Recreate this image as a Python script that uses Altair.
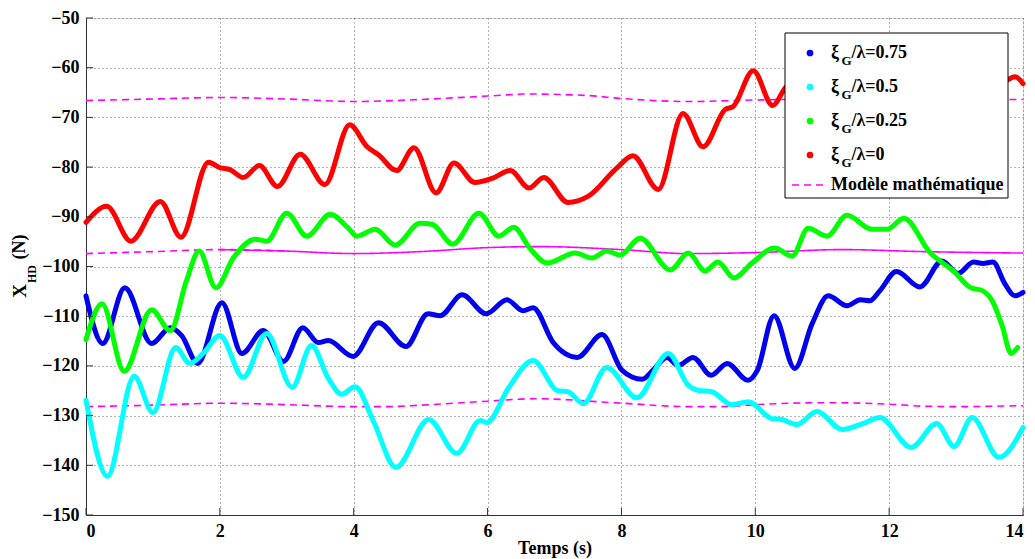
import altair as alt
import pandas as pd

# ---------------- data ----------------
blue_x = [0, 0.25, 0.58, 0.98, 1.26, 1.43, 1.67, 2.03, 2.33, 2.65, 2.95, 3.24, 3.47, 3.62, 3.99,
          4.37, 4.78, 5.11, 5.29, 5.62, 5.98, 6.29, 6.53, 6.68, 6.98, 7.34, 7.71, 8.01, 8.31,
          8.47, 8.68, 8.85, 9.07, 9.34, 9.58, 9.89, 10.03, 10.28, 10.59, 10.85, 11.09, 11.37,
          11.57, 11.71, 11.86, 12.11, 12.46, 12.79, 13.03, 13.26, 13.40, 13.55, 13.73, 13.88, 14.0]
blue_y = [-105.9, -115.5, -104.3, -115.5, -112.3, -113.9, -119.5, -107.3, -117.5, -112.9, -119.1,
          -112.3, -115.3, -114.9, -118.1, -111.3, -116.1, -109.5, -109.9, -105.7, -109.5, -106.7,
          -108.9, -108.3, -115.3, -118.3, -113.7, -120.9, -122.7, -120.9, -118.3, -119.9, -118.3,
          -121.9, -119.5, -122.9, -120.9, -109.9, -120.5, -111.5, -105.9, -107.9, -106.7, -106.9,
          -104.9, -101.0, -104.1, -98.9, -101.4, -99.1, -99.4, -99.1, -103.5, -105.9, -105.2]

cyan_x = [0, 0.32, 0.72, 1.0, 1.34, 1.55, 1.75, 2.0, 2.35, 2.70, 3.08, 3.37, 3.62, 3.82, 4.02,
          4.29, 4.63, 5.12, 5.54, 5.89, 5.99, 6.31, 6.68, 7.05, 7.20, 7.43, 7.78, 8.23, 8.70,
          9.0, 9.14, 9.35, 9.65, 9.89, 10.25, 10.40, 10.62, 10.92, 11.30, 11.61, 11.86, 12.33,
          12.71, 12.97, 13.24, 13.64, 14.0]
cyan_y = [-126.9, -142.2, -122.1, -129.4, -116.3, -119.5, -117.5, -113.9, -122.3, -113.5, -124.3,
          -115.9, -122.5, -125.7, -124.2, -131.0, -140.4, -130.8, -137.6, -131.0, -131.4, -124.5,
          -118.9, -125.0, -125.2, -127.6, -120.3, -126.4, -117.5, -123.9, -124.9, -125.2, -127.8,
          -127.2, -130.6, -130.8, -131.8, -129.2, -132.8, -131.6, -130.4, -136.4, -131.6, -136.2,
          -130.4, -138.4, -132.4]

green_x = [0, 0.24, 0.57, 0.98, 1.26, 1.50, 1.69, 1.94, 2.2, 2.53, 2.70, 3.0, 3.30, 3.65, 3.92,
           4.05, 4.32, 4.62, 4.99, 5.17, 5.48, 5.87, 6.17, 6.39, 6.63, 6.89, 7.31, 7.56, 7.78,
           7.98, 8.28, 8.73, 9.0, 9.25, 9.44, 9.68, 9.95, 10.29, 10.55, 10.79, 11.07, 11.37,
           11.74, 11.97, 12.22, 12.61, 12.96, 13.21, 13.40, 13.54, 13.69, 13.82, 13.92]
green_y = [-114.7, -107.5, -121.1, -108.7, -112.9, -102.9, -96.9, -104.3, -98.3, -94.5, -94.9,
           -89.3, -93.9, -89.5, -92.3, -93.9, -92.5, -95.7, -91.3, -91.5, -95.5, -89.3, -93.9,
           -92.1, -96.3, -99.3, -97.3, -98.3, -96.9, -97.7, -94.3, -100.7, -97.3, -100.9, -99.1,
           -102.3, -99.3, -96.3, -97.9, -92.3, -93.9, -89.7, -92.5, -92.5, -90.3, -97.2, -100.9,
           -104.2, -104.9, -106.9, -112.0, -117.5, -116.3]

red_x = [0, 0.31, 0.67, 1.11, 1.42, 1.83, 2.0, 2.15, 2.35, 2.59, 2.86, 3.2, 3.57, 3.94, 4.2,
         4.37, 4.64, 4.90, 5.23, 5.50, 5.81, 6.08, 6.34, 6.62, 6.84, 7.20, 7.50, 7.93, 8.17,
         8.55, 8.92, 9.22, 9.55, 9.67, 9.97, 10.26, 10.45, 10.8, 11.3, 11.8, 12.3, 12.8, 13.3,
         13.7, 13.88, 14.0]
red_y = [-91.1, -87.9, -94.9, -86.9, -94.1, -79.0, -80.1, -80.5, -82.1, -79.7, -83.9, -77.4,
         -83.5, -71.5, -75.9, -77.5, -80.7, -76.1, -85.2, -79.2, -83.1, -82.2, -80.7, -84.2,
         -82.1, -87.1, -85.9, -80.2, -77.7, -84.5, -69.2, -75.9, -68.4, -67.8, -60.6, -67.6,
         -64.0, -61.0, -65.0, -62.0, -66.0, -63.0, -65.0, -63.0, -61.8, -63.2]

# mathematical model (three curves)
mod_top_x = [0, 1, 2, 3, 4, 5, 6, 6.6, 7.5, 8, 9, 10, 11, 12, 13, 14]
mod_top_y = [-66.6, -66.3, -66.0, -66.3, -66.8, -66.4, -65.7, -65.3, -65.6, -66.2, -66.8, -66.5,
             -66.3, -66.2, -66.4, -66.4]
mod_mid_x = [0, 1, 2, 3, 4, 5, 6, 6.8, 8, 9, 10, 11.3, 12.5, 14]
mod_mid_y = [-97.4, -97.0, -96.6, -96.9, -97.4, -97.0, -96.2, -96.0, -96.6, -97.4, -97.2,
             -96.6, -97.0, -97.3]
mod_bot_x = [0, 1, 2, 3, 4, 4.5, 5, 6, 6.7, 8, 9, 9.5, 10, 11, 12, 12.5, 13, 14]
mod_bot_y = [-128.2, -127.9, -127.5, -127.8, -128.2, -128.2, -127.9, -127.1, -126.6, -127.5,
             -128.2, -128.2, -127.8, -127.4, -127.7, -128.1, -128.2, -128.0]

series_values = ["0.75", "0.5", "0.25", "0"]
series_colors = ["#0000ee", "#00ffff", "#00ff00", "#ff0000"]
model_label = "Modèle mathématique"
model_color = "#ff00ff"

x_ticks = [0, 2, 4, 6, 8, 10, 12, 14]
y_ticks = [-150, -140, -130, -120, -110, -100, -90, -80, -70, -60, -50]

# ---------------- chart ----------------
W, H = 937, 497
TOP = 10
FONT = "Liberation Serif"

xs = alt.Scale(domain=[0, 14], nice=False, zero=False)
ys = alt.Scale(domain=[-150, -50], nice=False, zero=False)

def frame(xv, yv):
    return pd.DataFrame({"t": xv, "v": yv})

axis_x = alt.Axis(values=x_ticks, format="d", grid=True, gridDash=[1, 3], gridColor="#666",
                  gridOpacity=1, ticks=False, labelPadding=7, domainColor="#333",
                  labelFont=FONT, labelFontWeight="bold", labelFontSize=18, labelColor="black",
                  title="Temps (s)", titleFont=FONT, titleFontWeight="bold", titleFontSize=18,
                  titleColor="black", titlePadding=-1)
axis_y = alt.Axis(values=y_ticks, format="d", grid=True, gridDash=[1, 3], gridColor="#666",
                  gridOpacity=1, ticks=False, labelPadding=7, domainColor="#333",
                  labelFont=FONT, labelFontWeight="bold", labelFontSize=18, labelColor="black",
                  title=None)

layers = []

def model_layer(xv, yv, dash):
    m = alt.Chart(frame(xv, yv)).mark_line(color=model_color, strokeWidth=1.6,
                                             strokeDash=dash, interpolate="monotone")
    return m.encode(x=alt.X("t:Q", scale=xs, axis=axis_x),
                    y=alt.Y("v:Q", scale=ys, axis=axis_y))

layers.append(model_layer(mod_top_x, mod_top_y, [7, 5]))
split = 4
layers.append(model_layer(mod_mid_x[:split], mod_mid_y[:split], [7, 5]))
layers.append(model_layer(mod_mid_x[split - 2:], mod_mid_y[split - 2:], [1, 0]))
layers.append(model_layer(mod_bot_x, mod_bot_y, [7, 5]))

for (xv, yv), col in zip([(blue_x, blue_y), (cyan_x, cyan_y), (green_x, green_y), (red_x, red_y)],
                         series_colors):
    layers.append(alt.Chart(frame(xv, yv)).mark_line(color=col, strokeWidth=5,
                                                     interpolate="monotone", strokeCap="round")
                  .encode(x=alt.X("t:Q", scale=xs), y=alt.Y("v:Q", scale=ys)))

# inward tick marks (MATLAB style)
layers.append(alt.Chart(pd.DataFrame({"t": x_ticks})).mark_rule(color="#333", strokeWidth=1)
              .encode(x=alt.X("t:Q", scale=xs), y=alt.value(H), y2=alt.value(H - 7)))
layers.append(alt.Chart(pd.DataFrame({"v": y_ticks})).mark_rule(color="#333", strokeWidth=1)
              .encode(y=alt.Y("v:Q", scale=ys), x=alt.value(0), x2=alt.value(7)))

# y-axis title with subscript
def txt(s, x, y, size):
    return alt.Chart(pd.DataFrame({"s": [s]})).mark_text(
        font=FONT, fontWeight="bold", fontSize=size, color="black", angle=270,
        align="center", baseline="middle").encode(x=alt.value(x), y=alt.value(y), text="s:N")

layers.append(txt("X", -66, 273, 19))
layers.append(txt("HD", -54, 256, 12))
layers.append(txt("(N)", -66, 229, 18))

# legend (drawn manually for the subscript G)
lx0, lx1, ly0, ly1 = 699, 922, 15, 180
layers.append(alt.Chart(pd.DataFrame({"a": [0]})).mark_rect(fill="white", stroke="black",
                                                            strokeWidth=1)
              .encode(x=alt.value(lx0), x2=alt.value(lx1), y=alt.value(ly0), y2=alt.value(ly1)))
rows_y = [35 + 34 * i for i in range(len(series_values))]
leg = pd.DataFrame({"val": series_values, "col": series_colors, "ly": rows_y})
layers.append(alt.Chart(leg).mark_circle(size=45, opacity=1).encode(
    x=alt.value(724), y=alt.Y("ly:Q", scale=None),
    color=alt.Color("col:N", scale=None)))
layers.append(alt.Chart(leg).mark_text(font=FONT, fontWeight="bold", fontSize=18, color="black",
                                       align="left", baseline="middle", text="ξ")
              .encode(x=alt.value(745), y=alt.Y("ly:Q", scale=None)))
leg_g = leg.assign(ly2=[v + 8 for v in rows_y])
layers.append(alt.Chart(leg_g).mark_text(font=FONT, fontWeight="bold", fontSize=13, color="black",
                                         align="left", baseline="middle", text="G")
              .encode(x=alt.value(755.5), y=alt.Y("ly2:Q", scale=None)))
layers.append(alt.Chart(leg).transform_calculate(lab="'/λ=' + datum.val").mark_text(
    font=FONT, fontWeight="bold", fontSize=18, color="black", align="left", baseline="middle")
              .encode(x=alt.value(765.5), y=alt.Y("ly:Q", scale=None), text="lab:N"))
model_row_y = 167
layers.append(alt.Chart(pd.DataFrame({"a": [0]})).mark_rule(color=model_color, strokeWidth=1.6,
                                                            strokeDash=[7, 5])
              .encode(x=alt.value(706), x2=alt.value(740), y=alt.value(model_row_y)))
layers.append(alt.Chart(pd.DataFrame({"s": [model_label]})).mark_text(
    font=FONT, fontWeight="bold", fontSize=18, color="black", align="left", baseline="middle")
              .encode(x=alt.value(745), y=alt.value(model_row_y), text="s:N"))

chart = alt.layer(*layers).properties(
    width=W, height=H,
    autosize=alt.AutoSizeParams(type="none"),
    padding={"left": 78, "top": TOP, "right": 4, "bottom": 44},
).configure_view(stroke=None).configure(background="white")

chart.save("out.html", embed_options={"renderer": "svg", "actions": False})
